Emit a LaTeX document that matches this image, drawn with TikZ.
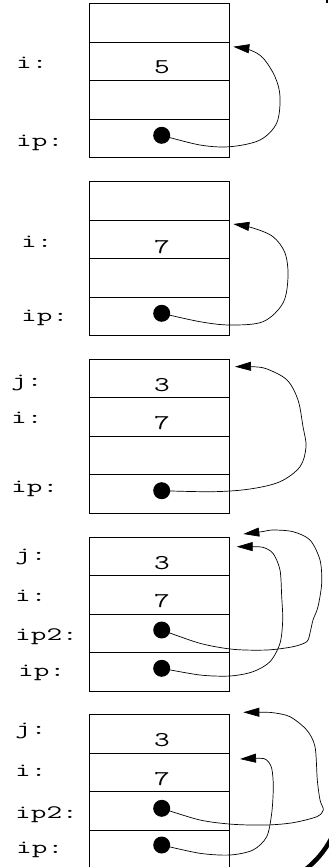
\documentclass[tikz,border=0pt]{standalone}
\usetikzlibrary{arrows.meta}
\newcommand{\stw}[1]{\scalebox{1.6}[1]{#1}}
\newcommand{\stv}[1]{\scalebox{1.45}[1]{#1}}
\begin{document}
\begin{tikzpicture}[x=1pt,y=-1pt,
  cell/.style={draw, line width=0.8pt},
  lab/.style={anchor=base west, inner sep=0pt, font=\fontsize{19}{19}\selectfont\ttfamily},
  val/.style={anchor=base, inner sep=0pt, font=\fontsize{21}{21}\selectfont\ttfamily},
  dot/.style={circle, fill=black, inner sep=0pt, minimum size=17pt},
  arr/.style={line width=0.7pt, -{Triangle[length=16pt,width=9pt]}},
]
\useasboundingbox (0,0) rectangle (329,867);
% boxes
\foreach \t in {3.5,181.7,359.3,537.3,714.7} {
  \draw[cell] (89.3,\t) rectangle ++(140,154);
  \foreach \k in {1,2,3} \draw[cell] (89.3,\t+38.5*\k) -- ++(140,0);
}
% ---- frame 1
\node[lab] (l1i) at (16,68.3) {\stw{i:}};
\node[lab] (l1p) at (16,146.5) {\stw{ip:}};
\node[val] (v1) at (162,74) {\stv{5}};
\node[dot] (d1) at (161.7,135.3) {};
\coordinate (t1) at (233.3,46.7);
\draw[arr] plot[smooth, tension=0.55] coordinates {(d1) (200,145) (230,146.7) (260,140) (276.7,123) (280,96.7) (275,76.7) (263,58) (250,50) (t1)};
% ---- frame 2
\node[lab] (l2i) at (21,247.3) {\stw{i:}};
\node[lab] (l2p) at (21,321.7) {\stw{ip:}};
\node[val] (v2) at (162,253.3) {\stv{7}};
\node[dot] (d2) at (161.7,313.3) {};
\coordinate (t2) at (233.3,224);
\draw[arr] plot[smooth, tension=0.55] coordinates {(d2) (200,321.7) (230,325) (263,321.7) (283,303) (288,276.7) (285,253) (273,236.7) (253,228) (t2)};
% ---- frame 3
\node[lab] (l3j) at (11,386.7) {\stw{j:}};
\node[lab] (l3i) at (11,423.3) {\stw{i:}};
\node[lab] (l3p) at (11,492) {\stw{ip:}};
\node[val] (v3a) at (162,391.7) {\stv{3}};
\node[val] (v3b) at (162,429.3) {\stv{7}};
\node[dot] (d3) at (161.7,490.7) {};
\coordinate (t3) at (235,366.7);
\draw[arr] plot[smooth, tension=0.55] coordinates {(d3) (213,491.7) (250,489) (280,481.7) (300,466.7) (306,446.7) (303,426.7) (298,400) (287,380) (267,369) (253,366.7) (t3)};
% ---- frame 4
\node[lab] (l4j) at (15,560) {\stw{j:}};
\node[lab] (l4i) at (15,601.7) {\stw{i:}};
\node[lab] (l4q) at (15,640.7) {\stw{ip2:}};
\node[lab] (l4p) at (18,676.7) {\stw{ip:}};
\node[val] (v4a) at (162,569.3) {\stv{3}};
\node[val] (v4b) at (162,607.3) {\stv{7}};
\node[dot] (d4q) at (161.7,630) {};
\node[dot] (d4p) at (161.7,668.3) {};
\coordinate (t4q) at (243.3,534);
\coordinate (t4p) at (236.7,546.7);
\draw[arr] plot[smooth, tension=0.5] coordinates {(d4q) (200,643.3) (233,649.3) (266.7,650) (293,646.7) (306.7,641.7) (310,633) (313,620) (318,606.7) (321.7,583) (320,560) (310,540) (293,531.7) (273,530) (261.7,531.7) (t4q)};
\draw[arr] plot[smooth, tension=0.5] coordinates {(d4p) (200,675) (230,676) (253,671.7) (270,661.7) (280,643.3) (282.7,620) (281.7,596.7) (280,570) (273,553.3) (263,547.3) (253,546.7) (t4p)};
% ---- frame 5
\node[lab] (l5j) at (15,734) {\stw{j:}};
\node[lab] (l5i) at (15,776) {\stw{i:}};
\node[lab] (l5q) at (15,818.3) {\stw{ip2:}};
\node[lab] (l5p) at (16,853.3) {\stw{ip:}};
\node[val] (v5a) at (162,746.7) {\stv{3}};
\node[val] (v5b) at (162,785) {\stv{7}};
\node[dot] (d5q) at (161.7,808.3) {};
\node[dot] (d5p) at (161.7,845) {};
\coordinate (t5q) at (243.3,712.3);
\coordinate (t5p) at (240,759);
\draw[arr] plot[smooth, tension=0.5] coordinates {(d5q) (200,820) (233,824.3) (266.7,825) (293,822.7) (316.7,816.7) (323.3,810) (320,800) (317.3,780) (315,746.7) (306.7,730) (290,716.7) (273,712.7) (260,712.3) (t5q)};
\draw[arr] plot[smooth, tension=0.5] coordinates {(d5p) (200,853.3) (230,855) (253,850) (266.7,836.7) (271.7,813.3) (273.3,786.7) (271.7,768.3) (266.7,760) (260,758.3) (t5p)};
% edge marks
\draw[line width=4.5pt] (305,870) .. controls (316,861) and (324,852) .. (331,839);
\fill (325.5,0) rectangle (327.5,3.5);
\end{tikzpicture}
\end{document}
